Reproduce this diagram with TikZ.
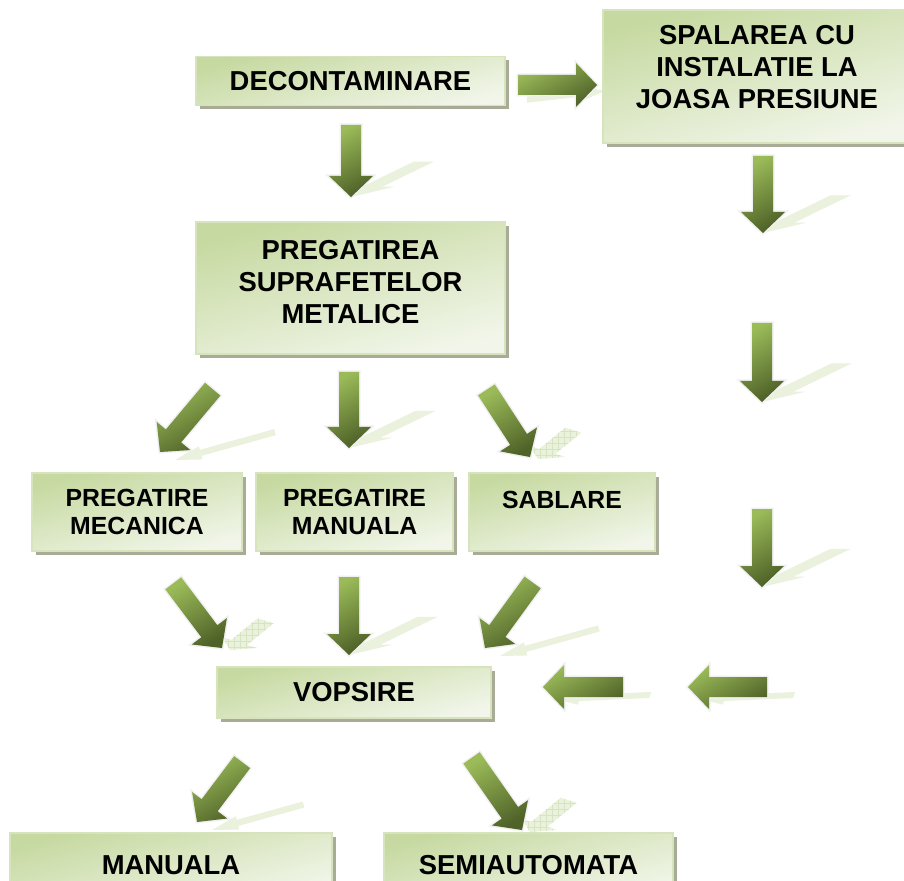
\documentclass[tikz,border=0pt]{standalone}
\usepackage{fontspec}
\setmainfont{Liberation Sans}
\usetikzlibrary{shadows,patterns}

\definecolor{boxdark}{RGB}{198,217,160}
\definecolor{boxlight}{RGB}{236,242,225}
\definecolor{boxedge}{RGB}{214,227,188}
\definecolor{boxshadow}{RGB}{168,172,150}
\definecolor{arrowlight}{RGB}{155,187,89}
\definecolor{arrowdark}{RGB}{79,98,40}
\definecolor{arrowglow}{RGB}{240,240,240}
\definecolor{arrowshade}{RGB}{234,241,221}
\definecolor{gridgreen}{RGB}{214,228,194}

\tikzset{
  stage/.style={rectangle,draw=boxedge,line width=0.8pt,top color=boxdark,middle color=boxlight,bottom color=boxlight!70!white,shading angle=15,
    drop shadow={shadow xshift=2pt,shadow yshift=-2pt,fill=boxshadow,opacity=1},
    align=center,inner sep=0pt,text=black,font=\bfseries\fontsize{13.7}{16}\selectfont},
  smallstage/.style={stage,font=\bfseries\fontsize{12.4}{14}\selectfont},
  arrowbody/.style={left color=arrowlight,right color=arrowdark,shading angle=30,preaction={draw=arrowglow,line width=1.5pt}},
  % flattened ground shadows of the block arrows
  shadowdown/.style={fill=arrowshade,cm={-1.01,-0.49,1,0,(0,0)}},
  shadowright/.style={fill=arrowshade,shift={(8,6)},cm={0.99,0.11,0,0.3,(0,0)}},
  shadowleft/.style={fill=arrowshade,shift={(12,12)},cm={-1.19,-0.05,0.1,0.3,(0,0)}},
  shadowdl/.style={fill=arrowshade,shift={(15,8)},cm={-1.22,-0.34,-0.08,0.3,(0,0)}},
  shadowdr/.style={fill=arrowshade,shift={(8,2)},cm={-0.44,-0.36,0.8,-0.25,(0,0)},postaction={pattern=grid,pattern color=gridgreen}},
}

\begin{document}
\begin{tikzpicture}[x=0.5pt,y=-0.5pt,line join=miter]
\clip (0,0) rectangle (904,881);
\fill[white] (0,0) rectangle (904,881);

% arrow shadows first
\foreach \tx/\ty/\len/\kind in {351/197/72/down,763/233/77/down,762/402/79/down,762/587/78/down,349/448/76/down,349/655/78/down,
  597/85/79/right,543/687/80/left,688/687/79/left,160/452/82/dl,485/648/81/dl,197/822/75/dl,530/457/80/dr,222/648/81/dr,522/830/88/dr}
  \fill[shift={(\tx,\ty)},shadow\kind] (-\len,-10) -- (-21,-10) -- (-21,-22) -- (0,0) -- (-21,22) -- (-21,10) -- (-\len,10) -- cycle;

\node[stage,minimum width=154.5pt,minimum height=24.5pt] (decon) at (350.5,81) {DECONTAMINARE};
\node[stage,minimum width=154pt,minimum height=66.5pt,text depth=10pt] (wash) at (757,76.5) {SPALAREA CU\\INSTALATIE LA\\JOASA PRESIUNE};
\node[stage,minimum width=154.5pt,minimum height=66pt,text depth=6pt] (prep) at (350.5,288) {PREGATIREA\\SUPRAFETELOR\\METALICE};
\node[smallstage,minimum width=105pt,minimum height=39pt] (mech) at (137,512) {PREGATIRE\\MECANICA};
\node[smallstage,minimum width=98.5pt,minimum height=39pt] (hand) at (354.5,512) {PREGATIRE\\MANUALA};
\node[smallstage,minimum width=93pt,minimum height=39pt,text height=10pt,text depth=13pt] (blast) at (562,512) {SABLARE};
\node[stage,minimum width=137pt,minimum height=25.5pt] (paint) at (354,692.5) {VOPSIRE};
\node[stage,minimum width=161pt,minimum height=32pt] (manual) at (171,865) {MANUALA};
\node[stage,minimum width=144.5pt,minimum height=32pt] (semi) at (528.5,865) {SEMIAUTOMATA};

% block arrows
\foreach \tx/\ty/\ang/\len in {351/197/-90/72,763/233/-90/77,762/402/-90/79,762/587/-90/78,349/448/-90/76,349/655/-90/78,
  597/85/0/79,543/687/180/80,688/687/180/79,160/452/-130/82,485/648/-126/81,197/822/-127/75,530/457/-57/80,222/648/-53/81,522/830/-55/88}
  \shade[arrowbody,shift={(\tx,\ty)},rotate=\ang] (-\len,-10) -- (-21,-10) -- (-21,-22) -- (0,0) -- (-21,22) -- (-21,10) -- (-\len,10) -- cycle;
\end{tikzpicture}
\end{document}
